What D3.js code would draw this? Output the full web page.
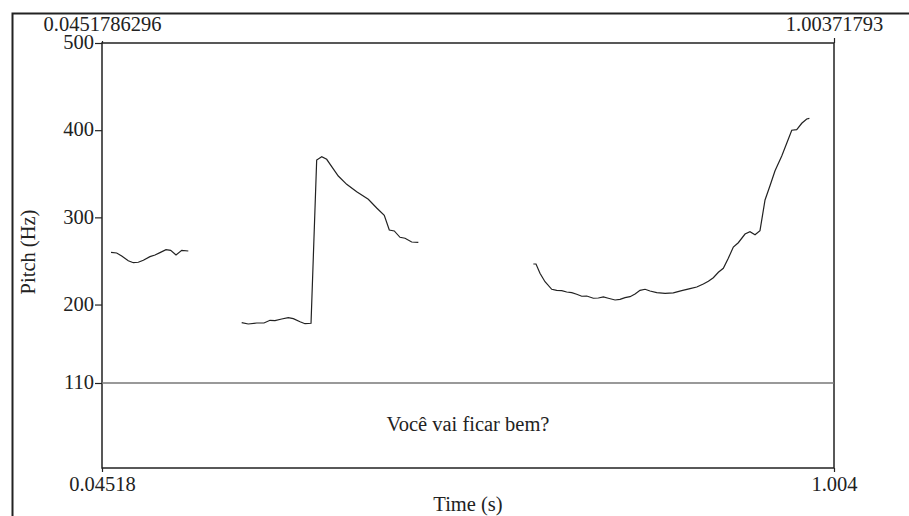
<!DOCTYPE html>
<html>
<head>
<meta charset="utf-8">
<script src="https://cdn.jsdelivr.net/npm/d3@7"></script>
<style>
  body { margin: 0; background: #fff; }
  svg text { font-family: 'Liberation Serif', 'Times New Roman', serif; fill: #222; }
</style>
</head>
<body>
<svg class="chart" width="909" height="516"></svg>
<script>
// time range of the window (s)
const timeStart = 0.0451786296;
const timeEnd = 1.00371793;
const timeTopLabels = ['0.0451786296', '1.00371793'];
const timeTicks = ['0.04518', '1.004'];

// pitch range (Hz)
const pitchMin = 110;
const pitchMax = 500;
const pitchTicks = [110, 200, 300, 400, 500];

const sentence = 'Você vai ficar bem?';

// pitch contour, three voiced stretches: [time, Hz]
const segment1 = [
  [0.0570, 259.9], [0.0644, 259.1], [0.0710, 255.7], [0.0796, 250.3], [0.0862, 248.0],
  [0.0927, 248.5], [0.0993, 250.8], [0.1080, 254.9], [0.1146, 256.8], [0.1211, 259.5],
  [0.1290, 262.9], [0.1351, 262.2], [0.1421, 256.8], [0.1496, 262.2], [0.1582, 261.4]
];
const segment2 = [
  [0.2281, 179.2], [0.2367, 177.7], [0.2478, 178.8], [0.2573, 178.8], [0.2652, 181.9],
  [0.2717, 181.5], [0.2805, 183.4], [0.2891, 184.9], [0.2957, 183.8], [0.3045, 180.3],
  [0.3110, 178.0], [0.3189, 178.5], [0.3263, 365.8], [0.3329, 369.6], [0.3394, 366.6],
  [0.3460, 358.1], [0.3546, 347.4], [0.3656, 337.9], [0.3787, 329.4], [0.3939, 320.7],
  [0.4049, 310.7], [0.4148, 302.3], [0.4214, 285.5], [0.4279, 284.4], [0.4354, 277.1],
  [0.4420, 276.0], [0.4507, 271.7], [0.4594, 271.4]
];
const segment3 = [
  [0.6100, 246.5], [0.6135, 246.5], [0.6187, 235.9], [0.6253, 226.2], [0.6341, 217.5],
  [0.6406, 216.3], [0.6472, 215.9], [0.6537, 214.4], [0.6603, 213.6], [0.6668, 211.8],
  [0.6734, 209.5], [0.6799, 209.8], [0.6886, 207.2], [0.6951, 207.5], [0.7017, 208.7],
  [0.7082, 207.2], [0.7170, 205.2], [0.7235, 206.0], [0.7301, 207.9], [0.7366, 209.0],
  [0.7432, 212.1], [0.7497, 216.3], [0.7563, 217.5], [0.7628, 215.5], [0.7716, 213.6],
  [0.7825, 212.9], [0.7933, 213.3], [0.8043, 215.9], [0.8152, 218.2], [0.8240, 220.1],
  [0.8326, 223.6], [0.8392, 226.7], [0.8457, 230.8], [0.8523, 237.0], [0.8588, 241.6],
  [0.8653, 253.0], [0.8719, 266.0], [0.8784, 270.9], [0.8872, 280.9], [0.8937, 283.6],
  [0.9003, 280.1], [0.9068, 284.7], [0.9134, 319.9], [0.9199, 336.3], [0.9265, 353.5],
  [0.9353, 370.4], [0.9418, 384.9], [0.9484, 399.9], [0.9549, 400.6], [0.9615, 407.9],
  [0.9680, 412.8], [0.9715, 413.6]
];
const segments = [segment1, segment2, segment3];

//Plot box
const boxLeft = 102, boxRight = 834, boxTop = 43, tierTop = 383, boxBottom = 468;
const fontSize = 20.5;

const svg = d3.select('svg.chart');

let x = d3.scaleLinear().domain([timeStart, timeEnd]).range([boxLeft, boxRight]);
let y = d3.scaleLinear().domain([pitchMin, pitchMax]).range([tierTop, boxTop]);

//Outer picture frame (Praat viewport edge)
svg.append('path')
  .attr('d', 'M12.5,516 V13.5 H909')
  .attr('fill', 'none')
  .attr('stroke', '#222')
  .attr('stroke-width', 2);

//Inner box
svg.append('rect')
  .attr('x', boxLeft).attr('y', boxTop)
  .attr('width', boxRight - boxLeft).attr('height', boxBottom - boxTop)
  .attr('fill', 'none')
  .attr('stroke', '#222')
  .attr('stroke-width', 1.5);

//Tier boundary at the bottom of the pitch range
svg.append('line')
  .attr('x1', boxLeft).attr('x2', boxRight)
  .attr('y1', y(pitchMin)).attr('y2', y(pitchMin))
  .attr('stroke', '#777')
  .attr('stroke-width', 1.5);

//Style the tick texts of an axis group
function styleAxis(g) {
  g.select('.domain').remove();
  g.selectAll('line').attr('stroke', '#222').attr('stroke-width', 1.2);
  g.selectAll('text')
    .attr('font-family', 'Liberation Serif')
    .attr('font-size', fontSize)
    .attr('fill', '#222');
}

//Left axis
let yAxis = d3.axisLeft(y)
  .tickValues(pitchTicks)
  .tickSize(7)
  .tickPadding(1)
  .tickFormat(d3.format('d'));

let yg = svg.append('g')
  .attr('transform', `translate(${boxLeft},0)`)
  .call(yAxis);
styleAxis(yg);
yg.selectAll('text').attr('dy', '0.28em');

//Top time labels
let xTop = d3.axisTop(x)
  .tickValues([timeStart, timeEnd])
  .tickSize(5)
  .tickFormat((d, i) => timeTopLabels[i]);
let xtg = svg.append('g').attr('transform', `translate(0,${boxTop})`).call(xTop);
styleAxis(xtg);
xtg.selectAll('line').attr('y2', (d, i) => i === 0 ? -2 : -5);
xtg.selectAll('text').attr('y', -12).attr('dy', 0);

//Bottom time labels
let xBottom = d3.axisBottom(x)
  .tickValues([timeStart, timeEnd])
  .tickSize(4)
  .tickFormat((d, i) => timeTicks[i]);
let xbg = svg.append('g').attr('transform', `translate(0,${boxBottom})`).call(xBottom);
styleAxis(xbg);
xbg.selectAll('text').attr('y', 23).attr('dy', 0);

//Axis titles
svg.append('text')
  .attr('x', (boxLeft + boxRight) / 2)
  .attr('y', 511)
  .attr('text-anchor', 'middle')
  .attr('font-size', fontSize)
  .text('Time (s)');

svg.append('text')
  .attr('transform', `translate(35,252) rotate(-90)`)
  .attr('text-anchor', 'middle')
  .attr('font-size', fontSize)
  .text('Pitch (Hz)');

//Text tier
svg.append('text')
  .attr('x', (boxLeft + boxRight) / 2)
  .attr('y', 431)
  .attr('text-anchor', 'middle')
  .attr('font-size', fontSize)
  .text(sentence);

//Pitch contour
let line = d3.line()
  .x(d => x(d[0]))
  .y(d => y(d[1]));

svg.selectAll('.pitch')
  .data(segments)
  .enter()
  .append('path')
    .classed('pitch', true)
    .attr('d', line)
    .attr('fill', 'none')
    .attr('stroke', '#222')
    .attr('stroke-width', 1.2);
</script>
</body>
</html>
